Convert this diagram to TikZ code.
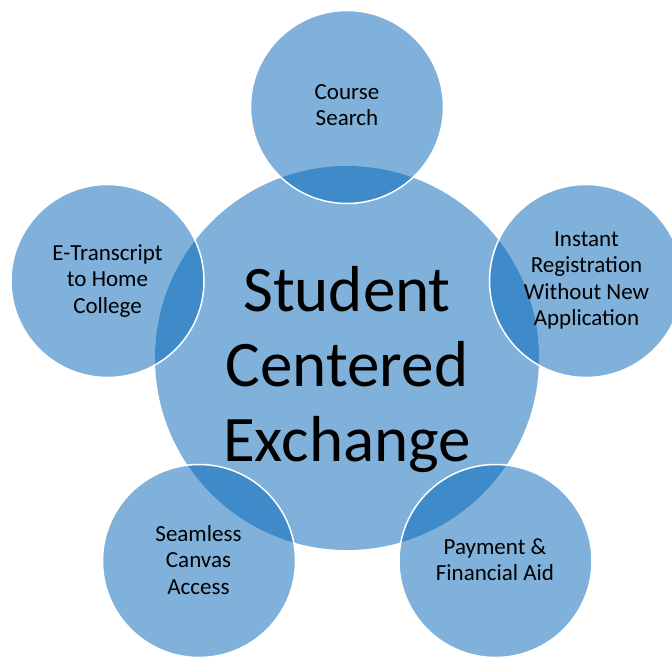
\documentclass[tikz,border=0pt]{standalone}
\usepackage{fontspec}
\setmainfont{Carlito}
\definecolor{venn}{RGB}{0,100,182}
\begin{document}
\begin{tikzpicture}[x=1pt,y=-1pt,
  hub/.style={circle, fill=venn, fill opacity=0.5, draw=none, minimum size=384pt, inner sep=0pt},
  sat/.style={circle, fill=venn, fill opacity=0.5, draw=white, draw opacity=1, line width=1.5pt, minimum size=193pt, inner sep=0pt},
  hubtxt/.style={align=center, inner sep=0pt, font=\fontsize{65}{75}\selectfont},
  sattxt/.style={align=center, inner sep=0pt, font=\fontsize{23}{26.5}\selectfont}]
\useasboundingbox (0,0) rectangle (672,656);
% circles
\node[hub] (c0) at (347,358) {};
\node[sat] (c1) at (347,107) {};
\node[sat] (c2) at (586,281) {};
\node[sat] (c3) at (495.5,561) {};
\node[sat] (c4) at (199,561) {};
\node[sat] (c5) at (107.5,281) {};
% texts
\node[hubtxt] (t0) at (347,370) {Student\\Centered\\Exchange};
\node[sattxt] (t1) at (347,105) {Course\\Search};
\node[sattxt] (t2) at (586.5,280.4) {Instant\\Registration\\Without New\\Application};
\node[sattxt] (t3) at (495,559.5) {Payment \&\\Financial Aid};
\node[sattxt] (t4) at (198.5,560) {Seamless\\Canvas\\Access};
\node[sattxt] (t5) at (107.5,281) {E-Transcript\\to Home\\College};
\end{tikzpicture}
\end{document}
